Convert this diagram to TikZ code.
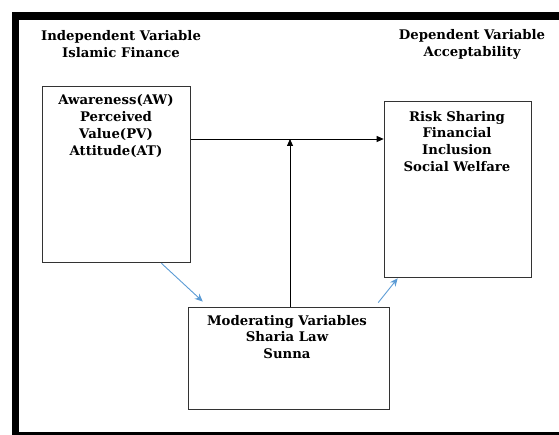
\documentclass[tikz,border=0pt]{standalone}
\usepackage{fontspec}
\setmainfont{DejaVu Serif}
\usetikzlibrary{arrows.meta,calc}
\definecolor{arrowblue}{RGB}{91,155,213}

\begin{document}
\begin{tikzpicture}[x=1bp,y=-1bp,
    box/.style={draw=black!80,line width=1.2bp,inner sep=0pt},
    txt/.style={align=center,font=\bfseries\fontsize{13.3}{17}\selectfont,inner sep=0pt},
    link/.style={draw=black,line width=0.8bp,-{Triangle[length=7bp,width=6bp]}},
    bluelink/.style={draw=arrowblue,line width=0.9bp,-{Stealth[length=8bp,width=7bp]}}]
        \useasboundingbox (0,0) rectangle (559,435);
        \draw[line width=7.5bp] (15.5,16) rectangle (640,436);
        \node[txt] (ivtitle) at (121,44) {Independent Variable\\Islamic Finance};
        \node[txt] (dvtitle) at (472,44) {Dependent Variable\\Acceptability};
        \node[box,minimum width=149,minimum height=177] (iv) at (116.5,174.5) {};
        \node[box,minimum width=148,minimum height=177] (dv) at (458,189.5) {};
        \node[box,minimum width=202,minimum height=103] (mv) at (289,358.5) {};
        \node[txt] (ivtext) at (116,126) {Awareness(AW)\\Perceived\\Value(PV)\\Attitude(AT)};
        \node[txt] (dvtext) at (457,141.5) {Risk Sharing\\Financial\\Inclusion\\Social Welfare};
        \node[txt] (mvtext) at (287,337) {Moderating Variables\\Sharia Law\\Sunna};
        \coordinate (j) at (290,139);
        \draw[link] (iv.east |- j) -- (dv.west |- j);
        \draw[link] (mv.north -| j) -- (j);
        \draw[bluelink] ($(iv.south)!0.6!(iv.south east)$) -- ($(mv.north west)+(15,-5)$);
        \draw[bluelink] ($(mv.north east)+(-12,-4)$) -- ($(dv.south west)+(14,0)$);
      \end{tikzpicture}
\end{document}
